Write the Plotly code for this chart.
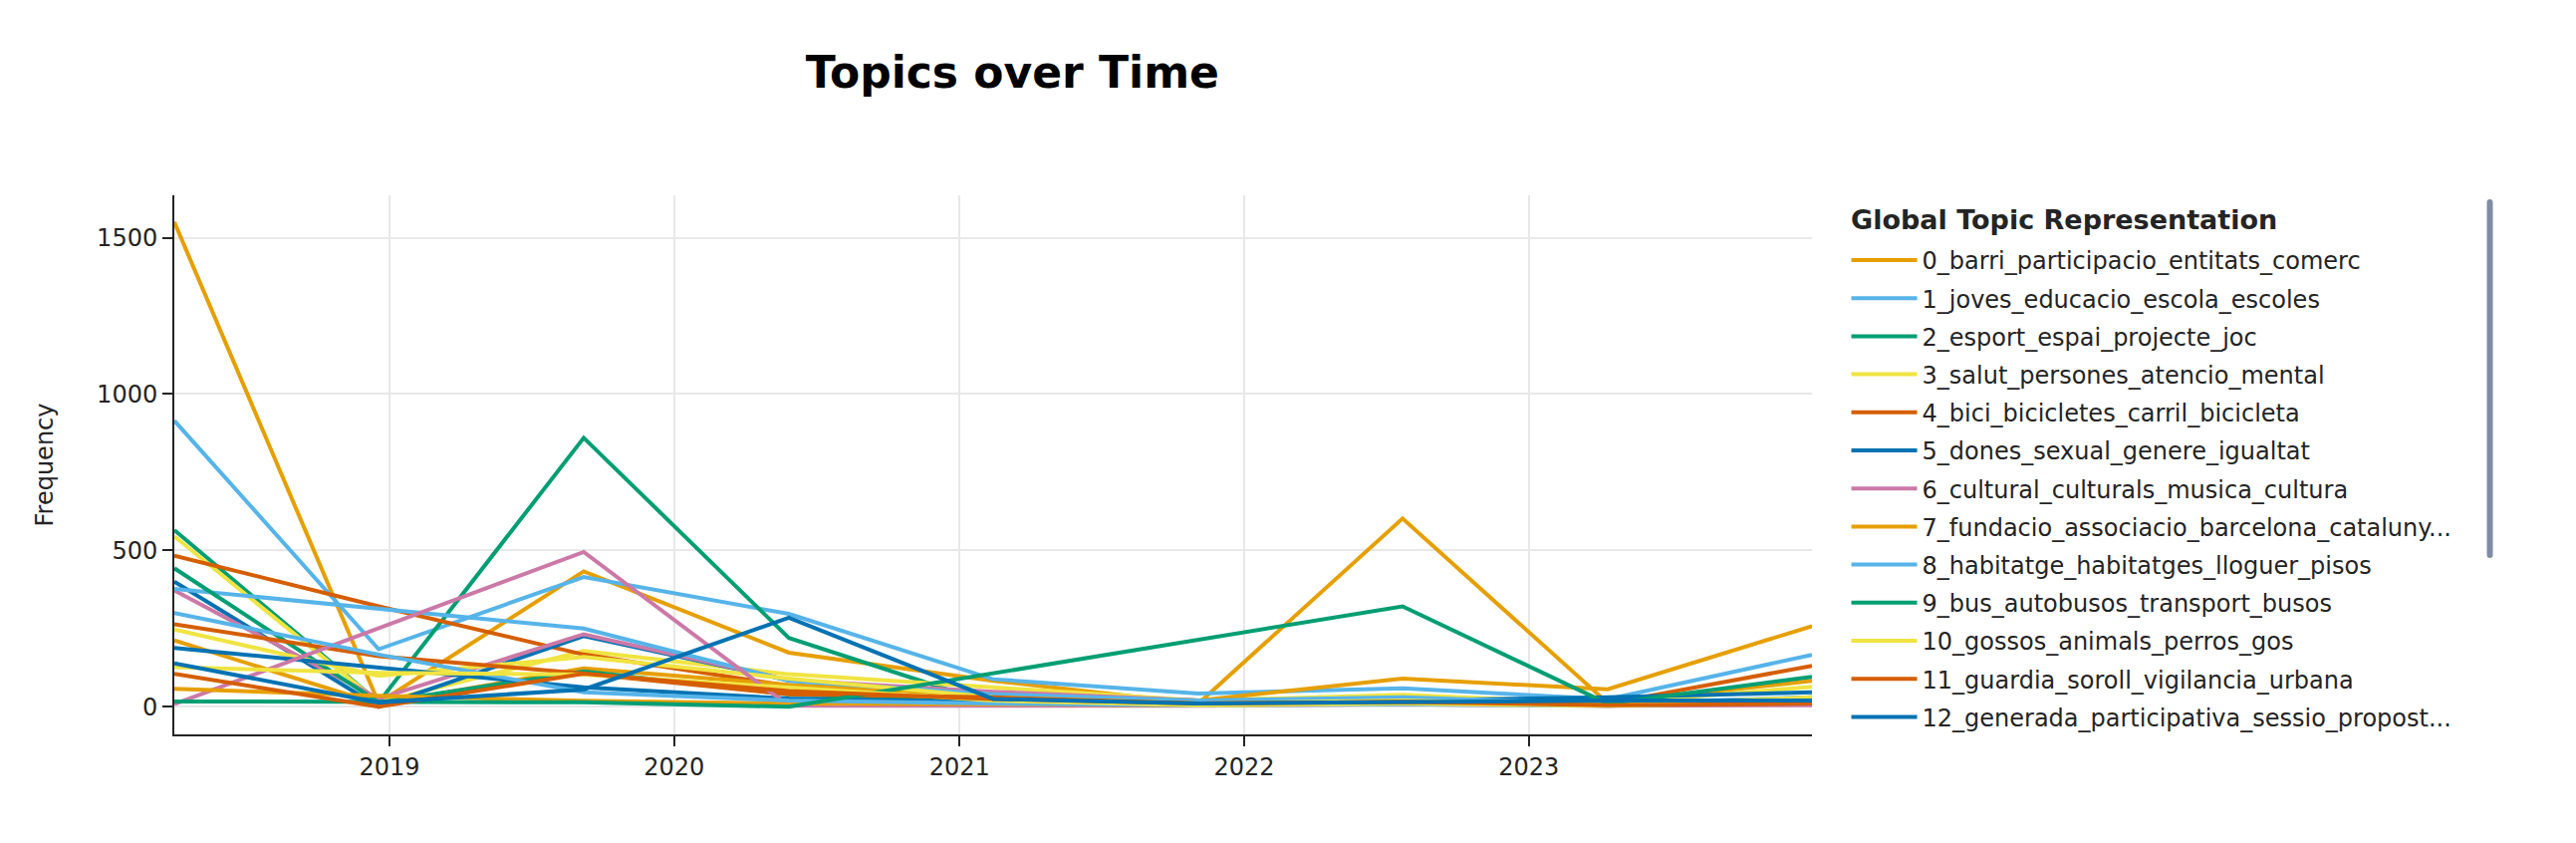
import plotly.graph_objects as go

# Time bins (left edges of the bins)
dates = ["2018-03-31", "2018-12-18", "2019-09-07", "2020-05-27", "2021-02-13",
         "2021-11-03", "2022-07-23", "2023-04-12", "2023-12-30"]

topic_names = [
    "0_barri_participacio_entitats_comerc",
    "1_joves_educacio_escola_escoles",
    "2_esport_espai_projecte_joc",
    "3_salut_persones_atencio_mental",
    "4_bici_bicicletes_carril_bicicleta",
    "5_dones_sexual_genere_igualtat",
    "6_cultural_culturals_musica_cultura",
    "7_fundacio_associacio_barcelona_cataluny...",
    "8_habitatge_habitatges_lloguer_pisos",
    "9_bus_autobusos_transport_busos",
    "10_gossos_animals_perros_gos",
    "11_guardia_soroll_vigilancia_urbana",
    "12_generada_participativa_sessio_propost...",
    "13_festes_festa_major_correfoc",
    "14_pressupost_inversio_diners_pla",
    "15_gent_gran_envelliment_soledat",
    "16_arbres_verd_parc_jardins",
    "17_neteja_residus_brossa_contenidors",
    "18_transit_cotxes_velocitat_carrers",
    "19_memoria_historia_patrimoni_arxiu",
]

legend_title = "Global Topic Representation"
chart_title = "Topics over Time"

# Frequencies per topic (None = no documents in that bin)
t00 = [1550, 12, 433, 173, 83, 10, 602, 12, 83]
t01 = [915, 184, 415, 297, 88, 42, 59, 24, 166]
t02 = [565, 14, 860, 220, 8, 15, 30, 12, 20]
t03 = [545, 14, 178, 104, 62, 20, 38, 10, 64]
t04 = [483, 321, 167, 67, 40, 20, 25, 10, 131]
t05 = [400, 0, 226, 85, 40, 15, 20, 30, 46]
t06 = [372, 26, 232, 85, 48, 20, 10, 5, 30]
t07 = [212, 8, 123, 70, 35, 20, 90, 56, 258]
t08 = [377, 315, 250, 83, 40, 20, 30, 10, 30]
t09 = [443, 14, 113, 40, 20, 8, 15, 5, 20]
t10 = [247, 99, 159, 90, 30, 10, 20, 5, 30]
t11 = [264, 162, 106, 40, 30, 10, 15, 3, 20]
t12 = [188, 125, 62, 26, 15, 8, 10, 5, 10]
t13 = [8, None, 495, 3, 3, 3, 8, 3, 5]
t14 = [57, 35, 19, 10, 8, 5, 10, 5, 20]
t15 = [300, 167, 46, 20, 10, 5, 8, 3, 15]
t16 = [17, 17, 14, 0, None, None, 321, 10, 96]
t17 = [127, 108, 103, 60, 20, 5, 10, 3, 15]
t18 = [105, 0, 106, 50, 25, 10, 15, 5, 10]
t19 = [139, 14, 55, 285, 25, 10, 15, 20, 20]

series = [t00, t01, t02, t03, t04, t05, t06, t07, t08, t09,
          t10, t11, t12, t13, t14, t15, t16, t17, t18, t19]

colors = ["#E69F00", "#56B4E9", "#009E73", "#F0E442", "#D55E00", "#0072B2", "#CC79A7"]

FONT = "DejaVu Sans"
INK = "rgb(36,36,36)"
PAD = "\u00a0" * 4  # invisible padding to widen the legend box like the reference

fig = go.Figure()
for i, (name, vals) in enumerate(zip(topic_names, series)):
    xs = [d for d, v in zip(dates, vals) if v is not None]
    ys = [v for v in vals if v is not None]
    label = name + PAD if name.endswith("...") else name
    fig.add_trace(go.Scatter(
        x=xs, y=ys, mode="lines", name=label,
        line=dict(color=colors[i % 7], width=4),
        legendgroup=f"g{i}",
        hovertemplate=name + "<br>%{x}<br>%{y}<extra></extra>",
    ))

fig.update_layout(
    width=2586, height=846,
    template="simple_white",
    font=dict(family=FONT, size=24, color=INK),
    margin=dict(l=175, r=767, t=196, b=109),
    title=dict(text=f"<b>{chart_title}</b>", x=0.393, xanchor="center",
               y=0.9326, yanchor="top", font=dict(size=44, color="black", family=FONT)),
    legend=dict(font=dict(size=24, family=FONT, color=INK),
                # blank spacer title: reserves the room of the (annotation) title
                title=dict(text="\u00a0", font=dict(size=33, family=FONT)),
                x=1.021, xanchor="left", y=1, yanchor="top",
                itemwidth=66, tracegroupgap=4, traceorder="grouped"),
    hoverlabel=dict(bgcolor="white", font_size=32),
    plot_bgcolor="white", paper_bgcolor="white",
    annotations=[dict(
        text=f"<b>{legend_title}</b>", xref="paper", yref="paper",
        x=1.0225, xanchor="left", y=0.9545, yanchor="middle",
        showarrow=False, font=dict(size=27, family=FONT, color=INK),
    )],
)

fig.update_xaxes(
    type="date", range=[dates[0], dates[-1]],
    dtick="M12", tick0="2019-01-01", tickformat="%Y",
    showgrid=True, gridcolor="rgb(232,232,232)", gridwidth=2,
    showline=True, linecolor=INK, linewidth=2,
    ticks="outside", ticklen=10, tickwidth=2, tickcolor=INK,
    tickfont=dict(size=24, family=FONT, color=INK),
)
fig.update_yaxes(
    title=dict(text="Frequency", font=dict(size=24, family=FONT, color=INK), standoff=37),
    range=[-88.4, 1635.6], dtick=500, tick0=0,
    showgrid=True, gridcolor="rgb(232,232,232)", gridwidth=2,
    zeroline=False,
    showline=True, linecolor=INK, linewidth=2,
    ticks="outside", ticklen=10, tickwidth=2, tickcolor=INK,
    tickfont=dict(size=24, family=FONT, color=INK),
)

fig.write_html("out.html")
